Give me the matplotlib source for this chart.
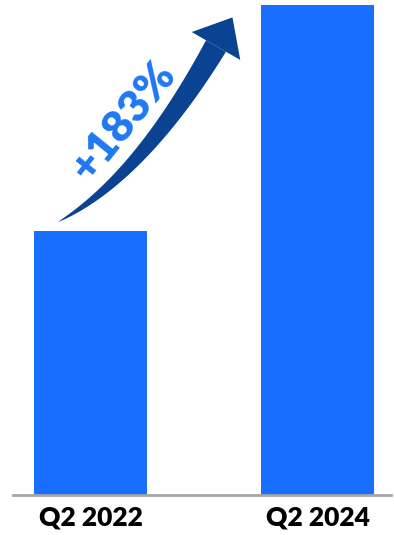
import numpy as np
import matplotlib.pyplot as plt
from matplotlib.patches import Polygon

categories = ['Q2 2022', 'Q2 2024']
values = [100, 186]
growth_label = '+183%'

bar_color = '#176EFF'
arrow_color = '#0A4391'
text_color = '#1F78F2'

W, H = 394, 535
fig = plt.figure(figsize=(W / 100, H / 100), dpi=100)

# bar axes, placed so the baseline sits near the bottom
ax = fig.add_axes([13 / W, 40.3 / H, (391 - 13) / W, (H - 40.3) / H])
x = np.arange(len(categories))
ax.bar(x, values, width=0.5, color=bar_color, zorder=2)
ax.set_xlim(-0.343, 1.324)
ax.set_ylim(0, values[1] * 494.7 / 489.7)
for s in ['top', 'right', 'left']:
    ax.spines[s].set_visible(False)
ax.spines['bottom'].set_color('#A6A6A6')
ax.spines['bottom'].set_linewidth(2)
ax.set_yticks([])
ax.set_xticks(x)
ax.set_xticklabels(categories, fontfamily='Lato', fontweight='heavy', fontsize=19)
ax.tick_params(axis='x', length=0, pad=8)
ax.patch.set_alpha(0)

# overlay in pixel coords for the growth arrow
ov = fig.add_axes([0, 0, 1, 1])
ov.set_xlim(0, W)
ov.set_ylim(H, 0)
ov.axis('off')
ov.patch.set_alpha(0)

p0 = np.array([58.0, 222.0])
p1 = np.array([140.0, 178.0])
p2 = np.array([216.0, 46.0])
t = np.linspace(0, 1, 60)[:, None]
pts = (1 - t) ** 2 * p0 + 2 * (1 - t) * t * p1 + t ** 2 * p2
d = 2 * (1 - t) * (p1 - p0) + 2 * t * (p2 - p1)
d = d / np.linalg.norm(d, axis=1)[:, None]
nrm = np.column_stack([d[:, 1], -d[:, 0]])
half = (11.5 * t[:, 0] ** 0.8)[:, None]
upper = pts - nrm * half
lower = pts + nrm * half
body = np.vstack([upper, lower[::-1]])
ov.add_patch(Polygon(body, closed=True, color=arrow_color, lw=0))

dend = d[-1]
nend = nrm[-1]
tip = p2 + dend * 33
head = np.array([p2 - nend * 28, tip, p2 + nend * 28])
ov.add_patch(Polygon(head, closed=True, color=arrow_color, lw=0))

ov.text(123, 121, growth_label, rotation=51, ha='center', va='center',
        fontfamily='Lato', fontweight='heavy', fontsize=32, color=text_color,
        rotation_mode='anchor')

fig.savefig('out.png', dpi=100)
